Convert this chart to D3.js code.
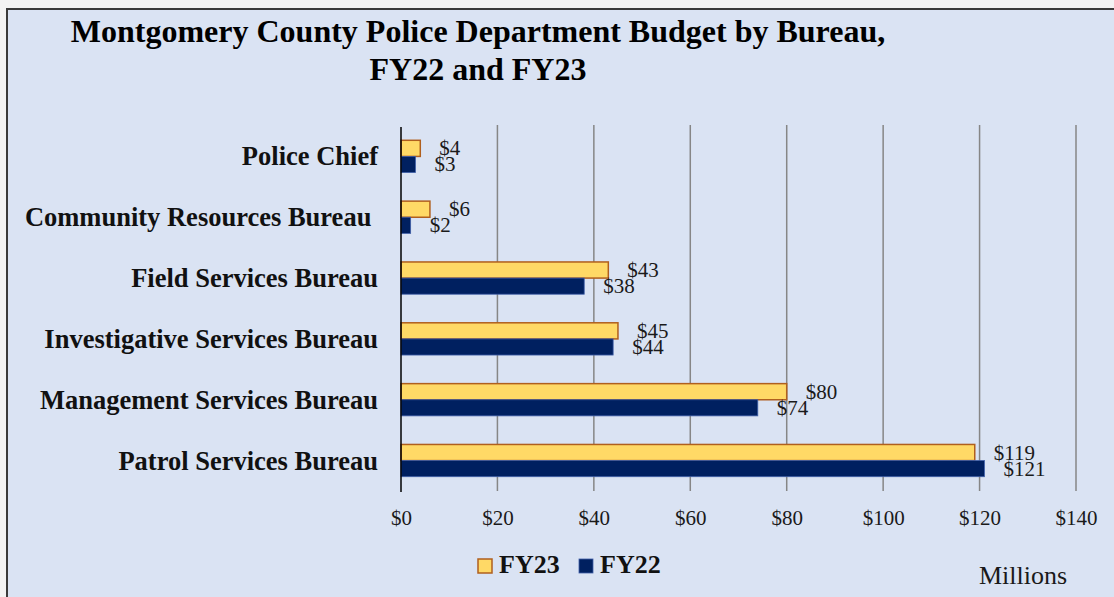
<!DOCTYPE html>
<html>
<head>
<meta charset="utf-8">
<script src="https://cdn.jsdelivr.net/npm/d3@7"></script>
<style>
  html, body { margin: 0; padding: 0; background: #f3f3f3; }
  svg { display: block; font-family: "Liberation Serif", "Times New Roman", serif; }
  text { white-space: pre; }
</style>
</head>
<body>
<svg id="chart"></svg>
<script>
const width = 1114;
const height = 597;

// data (millions of dollars)
const bureaus = ['Police Chief', 'Community Resources Bureau ', 'Field Services Bureau',
    'Investigative Services Bureau', 'Management Services Bureau', 'Patrol Services Bureau'];
const fy23 = [4, 6, 43, 45, 80, 119];
const fy22 = [3, 2, 38, 44, 74, 121];
const series = ['FY23', 'FY22'];
const xTicks = [0, 20, 40, 60, 80, 100, 120, 140];

const colors = {
    FY23: { fill: '#ffd966', stroke: '#b05f1e' },
    FY22: { fill: '#002060', stroke: '#3f5fa8' }
};

const svg = d3.select('#chart')
    .attr('width', width)
    .attr('height', height);

// chart area frame
svg.append('rect')
    .attr('x', 7)
    .attr('y', 9)
    .attr('width', width + 20)
    .attr('height', height + 20)
    .attr('fill', '#dae3f3')
    .attr('stroke', '#3a3a3a')
    .attr('stroke-width', 2);

// title
const title = svg.append('g').attr('font-weight', 'bold').attr('fill', '#000');
title.append('text')
    .attr('x', 478).attr('y', 42)
    .attr('text-anchor', 'middle')
    .attr('font-size', 32)
    .text('Montgomery County Police Department Budget by Bureau,');
title.append('text')
    .attr('x', 478).attr('y', 80)
    .attr('text-anchor', 'middle')
    .attr('font-size', 32)
    .text('FY22 and FY23');

const x = d3.scaleLinear()
    .domain([0, 140])
    .range([401, 1076]);

const y = d3.scaleBand()
    .domain(bureaus)
    .range([126, 491])
    .paddingInner(0.47)
    .paddingOuter(0.235);

const ySub = d3.scaleBand()
    .domain(series)
    .range([0, y.bandwidth()]);

// gridlines
svg.append('g')
    .selectAll('line')
    .data(xTicks.filter(d => d > 0))
    .enter().append('line')
    .attr('x1', d => x(d)).attr('x2', d => x(d))
    .attr('y1', 125).attr('y2', 491)
    .attr('stroke', '#868686')
    .attr('stroke-width', 1.5);

// x axis labels
const xAxis = svg.append('g')
    .attr('transform', 'translate(0,525)')
    .call(d3.axisBottom(x).tickValues(xTicks).tickFormat(d => '$' + d).tickSize(0).tickPadding(0));
xAxis.select('.domain').remove();
xAxis.selectAll('text')
    .attr('dy', 0)
    .attr('font-family', '"Liberation Serif", serif')
    .attr('font-size', 21)
    .attr('fill', '#1a1a1a');

// category labels
svg.append('g')
    .selectAll('text')
    .data(bureaus)
    .enter().append('text')
    .attr('x', 378)
    .attr('y', d => y(d) + y.bandwidth() / 2 + 9)
    .attr('text-anchor', 'end')
    .attr('font-weight', 'bold')
    .attr('font-size', 26.5)
    .attr('fill', '#111')
    .text(d => d);

// bars
const rows = bureaus.map((b, i) => ({ bureau: b, FY23: fy23[i], FY22: fy22[i] }));

const groups = svg.append('g')
    .selectAll('g')
    .data(rows)
    .enter().append('g')
    .attr('transform', d => `translate(0,${y(d.bureau)})`);

groups.selectAll('rect')
    .data(d => series.map(s => ({ key: s, value: d[s] })))
    .enter().append('rect')
    .attr('x', x(0))
    .attr('y', d => ySub(d.key))
    .attr('width', d => x(d.value) - x(0))
    .attr('height', ySub.bandwidth())
    .attr('fill', d => colors[d.key].fill)
    .attr('stroke', d => colors[d.key].stroke)
    .attr('stroke-width', d => d.key === 'FY23' ? 1.5 : 0.8);

groups.selectAll('text')
    .data(d => series.map(s => ({ key: s, value: d[s] })))
    .enter().append('text')
    .attr('x', d => x(d.value) + 19)
    .attr('y', d => ySub(d.key) + ySub.bandwidth() / 2 + 7)
    .attr('font-size', 21)
    .attr('fill', '#1a1a1a')
    .text(d => '$' + d.value);

// vertical axis line at zero
svg.append('line')
    .attr('x1', x(0)).attr('x2', x(0))
    .attr('y1', 127).attr('y2', 492)
    .attr('stroke', '#000')
    .attr('stroke-width', 1.5);

// legend
const legend = svg.append('g')
    .selectAll('g')
    .data(series)
    .enter().append('g')
    .attr('transform', (d, i) => `translate(${478 + i * 101},559)`);

legend.append('rect')
    .attr('width', 14)
    .attr('height', 14)
    .attr('fill', d => colors[d].fill)
    .attr('stroke', d => colors[d].stroke)
    .attr('stroke-width', d => d === 'FY23' ? 1.5 : 0.8);

legend.append('text')
    .attr('x', 21)
    .attr('y', 14)
    .attr('font-weight', 'bold')
    .attr('font-size', 26)
    .attr('fill', '#111')
    .text(d => d);

// units label
svg.append('text')
    .attr('x', 979)
    .attr('y', 584)
    .attr('font-size', 26)
    .attr('fill', '#1a1a1a')
    .text('Millions');
</script>
</body>
</html>
